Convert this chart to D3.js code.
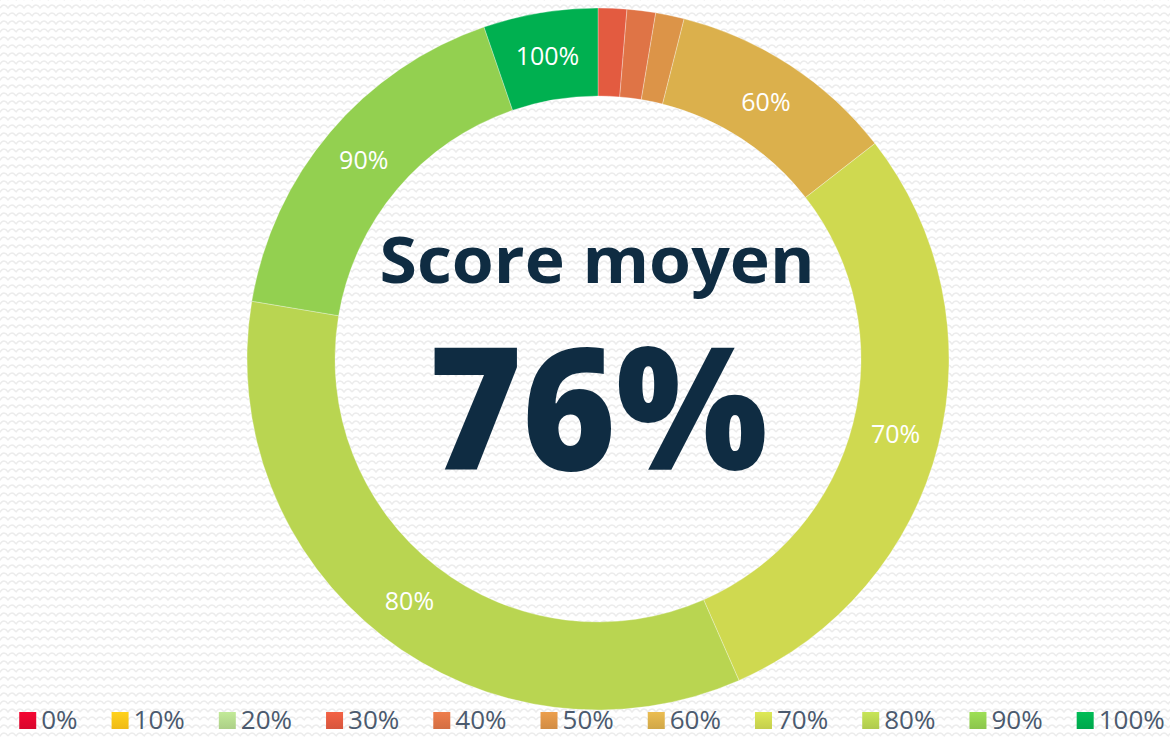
<!DOCTYPE html>
<html>
<head>
<meta charset="utf-8">
<script src="https://cdn.jsdelivr.net/npm/d3@7"></script>
<style>
  body { margin: 0; background: #fff; }
  svg { display: block; }
</style>
</head>
<body>
<div id="chart"></div>
<script>
var categories = ['0%', '10%', '20%', '30%', '40%', '50%', '60%', '70%', '80%', '90%', '100%'];
var counts = [0, 0, 0, 1, 1, 1, 8, 22, 26, 13, 4];
var colors = ['#e4062f', '#fcc419', '#b5da8e', '#e35b40', '#df7446', '#dc9448', '#dbb04c',
              '#cfd950', '#b9d551', '#93d050', '#00b050'];
var centerTitle = 'Score moyen';
var centerValue = '76%';

var width = 1170, height = 737;
var cx = 598, cy = 359;
var outerR = 351, innerR = 263;

var svg = d3.select('#chart').append('svg')
  .attr('width', width)
  .attr('height', height);

// faint scale pattern in the background
var defs = svg.append('defs');
var pat = defs.append('pattern')
  .attr('id', 'bg')
  .attr('width', 16).attr('height', 16)
  .attr('patternUnits', 'userSpaceOnUse');
pat.append('path')
  .attr('d', 'M0,8 Q4,2 8,8 Q12,2 16,8 M-8,16 Q-4,10 0,16 Q4,10 8,16 Q12,10 16,16 Q20,10 24,16 M8,0 Q12,-6 16,0 M-8,0 Q-4,-6 0,0 Q4,-6 8,0')
  .attr('fill', 'none')
  .attr('stroke', '#ececec')
  .attr('stroke-width', 1.5);

svg.append('rect')
  .attr('width', width).attr('height', height)
  .attr('fill', '#ffffff');
svg.append('rect')
  .attr('width', width).attr('height', height)
  .attr('fill', 'url(#bg)');

var data = categories.map(function(c, i) {
  return {label: c, value: counts[i], color: colors[i], idx: i};
});

// slightly shaded legend swatches
data.forEach(function(d) {
  var grad = defs.append('linearGradient')
    .attr('id', 'sw' + d.idx)
    .attr('x1', 0).attr('y1', 0).attr('x2', 0).attr('y2', 1);
  grad.append('stop').attr('offset', '0%').attr('stop-color', d3.color(d.color).brighter(0.2));
  grad.append('stop').attr('offset', '100%').attr('stop-color', d3.color(d.color).darker(0.15));
});

var pie = d3.pie()
  .sort(null)
  .value(function(d) { return d.value; });

var arc = d3.arc()
  .innerRadius(innerR)
  .outerRadius(outerR);

var labelArc = d3.arc()
  .innerRadius((innerR + outerR) / 2)
  .outerRadius((innerR + outerR) / 2);

var g = svg.append('g')
  .attr('transform', 'translate(' + cx + ',' + cy + ')');

var arcs = pie(data);

g.selectAll('path.slice').data(arcs).enter()
  .append('path')
  .attr('class', 'slice')
  .attr('d', arc)
  .attr('fill', function(d) { return d.data.color; })
  .attr('stroke', 'rgba(255,255,255,0.5)')
  .attr('stroke-width', 0.6);

g.selectAll('text.lbl').data(arcs.filter(function(d) { return d.endAngle - d.startAngle > 0.2; }))
  .enter()
  .append('text')
  .attr('class', 'lbl')
  .attr('transform', function(d) { return 'translate(' + labelArc.centroid(d) + ')'; })
  .attr('text-anchor', 'middle')
  .attr('dy', '0.35em')
  .attr('fill', '#ffffff')
  .style('font-family', '"Open Sans", sans-serif')
  .style('font-size', '25px')
  .text(function(d) { return d.data.label; });

// center text
svg.append('text')
  .attr('x', cx - 1)
  .attr('y', 283)
  .attr('text-anchor', 'middle')
  .attr('fill', '#0f2c42')
  .style('font-family', '"Open Sans", sans-serif')
  .style('font-weight', 700)
  .style('font-size', '64px')
  .attr('textLength', 435)
  .attr('lengthAdjust', 'spacingAndGlyphs')
  .text(centerTitle);

svg.append('text')
  .attr('x', cx)
  .attr('y', 470)
  .attr('text-anchor', 'middle')
  .attr('fill', '#0f2c42')
  .style('font-family', '"Open Sans", sans-serif')
  .style('font-weight', 800)
  .style('font-size', '170px')
  .attr('textLength', 339)
  .attr('lengthAdjust', 'spacingAndGlyphs')
  .text(centerValue);

// legend
var legend = svg.append('g');
var lx = 0;
var gap = 34;
var items = legend.selectAll('g.item').data(data).enter()
  .append('g')
  .attr('class', 'item');

items.append('rect')
  .attr('y', 712)
  .attr('width', 17)
  .attr('height', 17)
  .attr('fill', function(d) { return 'url(#sw' + d.idx + ')'; });

items.append('text')
  .attr('x', 22)
  .attr('y', 729)
  .attr('fill', '#4b5a6e')
  .style('font-family', '"Open Sans", sans-serif')
  .style('font-size', '26px')
  .text(function(d) { return d.label; });

items.each(function() {
  var w = d3.select(this).select('text').node().getComputedTextLength();
  d3.select(this).attr('transform', 'translate(' + lx + ',0)');
  lx += 22 + w + gap;
});
var total = lx - gap;
legend.attr('transform', 'translate(' + (20 + (1144 - total) / 2) + ',0)');
</script>
</body>
</html>
